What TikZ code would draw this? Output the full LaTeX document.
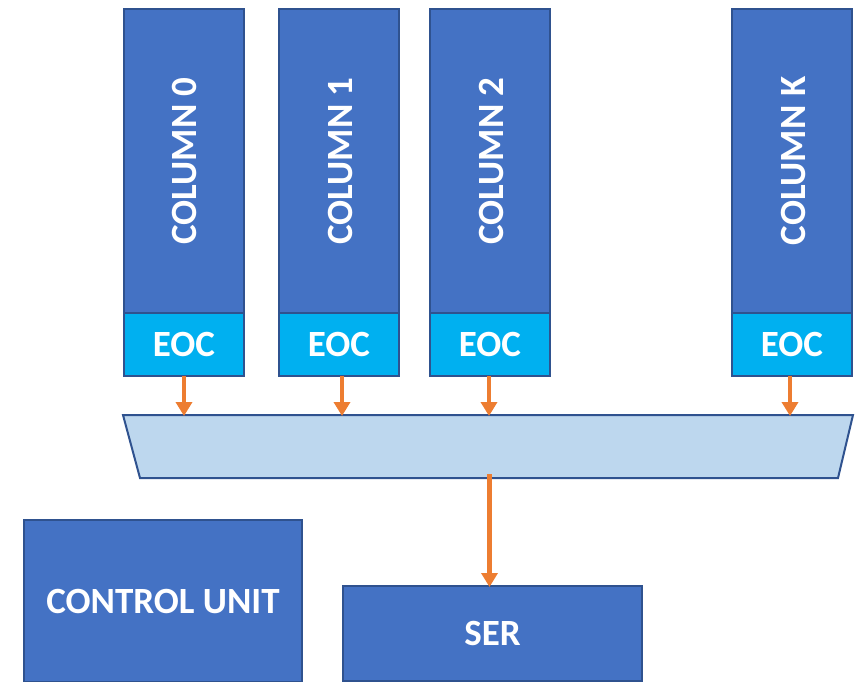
\documentclass[tikz,border=0pt]{standalone}
\usepackage{fontspec}
\setmainfont{Carlito}
\usetikzlibrary{arrows.meta}
\definecolor{boxblue}{HTML}{4472C4}
\definecolor{edgeblue}{HTML}{2F528F}
\definecolor{eoccyan}{HTML}{00B0F0}
\definecolor{muxfill}{HTML}{BDD7EE}
\definecolor{arroworange}{HTML}{ED7D31}
\tikzset{
  colbox/.style={draw=edgeblue, fill=boxblue, line width=2pt, minimum width=120pt, minimum height=304pt, inner sep=0pt, anchor=north west},
  eocbox/.style={draw=edgeblue, fill=eoccyan, line width=2pt, minimum width=120pt, minimum height=63pt, inner sep=0pt, anchor=north west, text=white, font=\bfseries\fontsize{37}{40}\selectfont},
  bigbox/.style={draw=edgeblue, fill=boxblue, line width=2pt, inner sep=0pt, anchor=north west, text=white, font=\bfseries\fontsize{37}{40}\selectfont},
  coltext/.style={text=white, rotate=90, font=\bfseries\fontsize{37}{40}\selectfont},
  flow/.style={draw=arroworange, line width=4.5pt, -{Triangle[width=16pt,length=14pt]}}
}
\begin{document}
\begin{tikzpicture}[x=1pt,y=-1pt]
\useasboundingbox (0,0) rectangle (859,681);
% columns
\foreach \n/\x/\t/\dx in {c0/123/COLUMN 0/0, c1/278/COLUMN 1/3, c2/429/COLUMN 2/-1, ck/731/COLUMN K/-2}{
  \node[colbox] (\n) at (\x,8) {};
  \node[coltext] at ([xshift=1pt]\n.center) {\t};
  \node[eocbox] (e\n) at (\x,312) {EOC};
  \coordinate (t\n) at ([xshift=\dx pt]e\n.south |- 0,415);
  \coordinate (s\n) at ([xshift=\dx pt]e\n.south);
}
% multiplexer
\path[draw=edgeblue, fill=muxfill, line width=2pt]
  (123,415) coordinate (mtl) -- (853,415) coordinate (mtr) -- (838,478) coordinate (mbr) -- (140,478) coordinate (mbl) -- cycle;
\foreach \n in {c0,c1,c2,ck}{
  \draw[flow] ([yshift=1pt]s\n) -- ([yshift=-1pt]t\n);
}
% bottom blocks
\node[bigbox, minimum width=278pt, minimum height=162pt] (cu) at (23,519) {CONTROL UNIT};
\node[bigbox, minimum width=299pt, minimum height=95pt] (ser) at (342,585) {SER};
\coordinate (mout) at ([xshift=-3pt]ser.north |- mbl);
\coordinate (min) at ([xshift=-3pt]ser.north);
\draw[flow] ([yshift=4pt]mout) -- ([yshift=-2pt]min);
\end{tikzpicture}
\end{document}
